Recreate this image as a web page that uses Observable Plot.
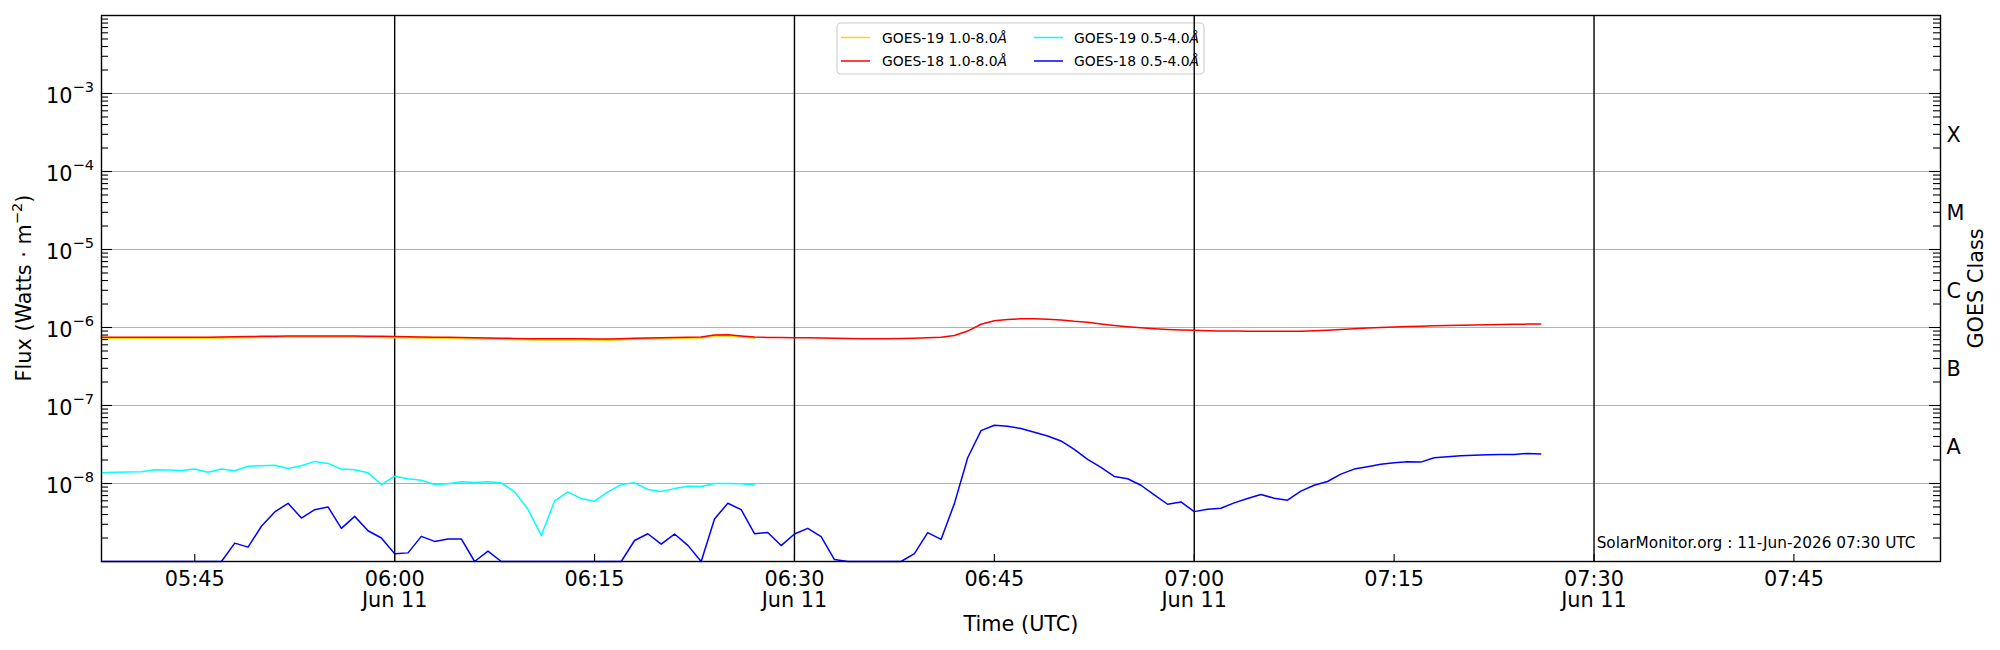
<!DOCTYPE html>
<html>
<head>
<meta charset="utf-8">
<script src="https://cdn.jsdelivr.net/npm/d3@7"></script>
<script src="https://cdn.jsdelivr.net/npm/@observablehq/plot@0.6"></script>
<style>
  html, body { margin: 0; padding: 0; background: #fff; }
  #chart svg { display: block; }
</style>
</head>
<body>
<div id="chart"></div>
<script>
// ---------- data (one sample per minute, starting at startTime) ----------
const dateStr = "2026-06-11";
const startTime = "05:38";
const endTime = "07:56";

const goes19Long = [
  7.32e-7, 7.32e-7, 7.32e-7, 7.32e-7, 7.30e-7, 7.30e-7, 7.30e-7, 7.32e-7, 7.34e-7, 7.37e-7,
  7.42e-7, 7.47e-7, 7.52e-7, 7.57e-7, 7.60e-7, 7.62e-7, 7.62e-7, 7.62e-7, 7.62e-7, 7.62e-7,
  7.57e-7, 7.52e-7, 7.47e-7, 7.42e-7, 7.37e-7, 7.32e-7, 7.32e-7, 7.27e-7, 7.22e-7, 7.17e-7,
  7.12e-7, 7.07e-7, 7.02e-7, 6.97e-7, 6.97e-7, 6.97e-7, 6.97e-7, 6.94e-7, 6.92e-7, 7.02e-7,
  7.12e-7, 7.17e-7, 7.22e-7, 7.27e-7, 7.32e-7, 7.37e-7, 7.82e-7, 7.87e-7, 7.62e-7, 7.37e-7
];

const goes18Long = [
  7.50e-7, 7.50e-7, 7.50e-7, 7.50e-7, 7.48e-7, 7.48e-7, 7.48e-7, 7.50e-7, 7.52e-7, 7.55e-7,
  7.60e-7, 7.65e-7, 7.70e-7, 7.75e-7, 7.78e-7, 7.80e-7, 7.80e-7, 7.80e-7, 7.80e-7, 7.80e-7,
  7.75e-7, 7.70e-7, 7.65e-7, 7.60e-7, 7.55e-7, 7.50e-7, 7.50e-7, 7.45e-7, 7.40e-7, 7.35e-7,
  7.30e-7, 7.25e-7, 7.20e-7, 7.15e-7, 7.15e-7, 7.15e-7, 7.15e-7, 7.12e-7, 7.10e-7, 7.20e-7,
  7.30e-7, 7.35e-7, 7.40e-7, 7.45e-7, 7.50e-7, 7.55e-7, 8.00e-7, 8.05e-7, 7.80e-7, 7.55e-7,
  7.45e-7, 7.42e-7, 7.40e-7, 7.37e-7, 7.33e-7, 7.30e-7, 7.25e-7, 7.20e-7, 7.15e-7, 7.20e-7,
  7.25e-7, 7.30e-7, 7.38e-7, 7.50e-7, 7.90e-7, 9.00e-7, 1.10e-6, 1.22e-6, 1.27e-6, 1.29e-6,
  1.29e-6, 1.28e-6, 1.25e-6, 1.20e-6, 1.17e-6, 1.11e-6, 1.06e-6, 1.02e-6, 9.90e-7, 9.65e-7,
  9.45e-7, 9.30e-7, 9.20e-7, 9.10e-7, 9.05e-7, 9.00e-7, 8.97e-7, 8.97e-7, 8.97e-7, 8.97e-7,
  8.97e-7, 9.10e-7, 9.25e-7, 9.45e-7, 9.65e-7, 9.85e-7, 1.00e-6, 1.015e-6, 1.03e-6, 1.04e-6,
  1.05e-6, 1.06e-6, 1.07e-6, 1.08e-6, 1.085e-6, 1.09e-6, 1.10e-6, 1.105e-6, 1.11e-6
];

const goes19Short = [
  1.37e-8, 1.39e-8, 1.40e-8, 1.41e-8, 1.50e-8, 1.49e-8, 1.47e-8, 1.53e-8, 1.39e-8, 1.53e-8,
  1.46e-8, 1.66e-8, 1.69e-8, 1.71e-8, 1.56e-8, 1.69e-8, 1.92e-8, 1.81e-8, 1.53e-8, 1.50e-8,
  1.37e-8, 9.7e-9, 1.24e-8, 1.15e-8, 1.10e-8, 9.7e-9, 9.9e-9, 1.05e-8, 1.03e-8, 1.05e-8,
  1.02e-8, 7.8e-9, 4.67e-9, 2.16e-9, 5.98e-9, 7.8e-9, 6.41e-9, 5.93e-9, 7.8e-9, 9.7e-9,
  1.02e-8, 8.37e-9, 7.89e-9, 8.6e-9, 9.24e-9, 9.15e-9, 1.0e-8, 1.0e-8, 9.9e-9, 9.6e-9
];

const goes18Short = [
  1e-9, 1e-9, 1e-9, 1e-9, 1e-9, 1e-9, 1e-9, 1e-9, 1e-9, 1e-9,
  1.72e-9, 1.53e-9, 2.83e-9, 4.32e-9, 5.58e-9, 3.61e-9, 4.62e-9, 5.01e-9, 2.66e-9, 3.79e-9,
  2.48e-9, 2.00e-9, 1.26e-9, 1.29e-9, 2.10e-9, 1.81e-9, 1.94e-9, 1.95e-9, 1e-9, 1.36e-9,
  1e-9, 1e-9, 1e-9, 1e-9, 1e-9, 1e-9, 1e-9, 1e-9, 1e-9, 1e-9,
  1.86e-9, 2.27e-9, 1.67e-9, 2.25e-9, 1.61e-9, 1e-9, 3.51e-9, 5.58e-9, 4.62e-9, 2.27e-9,
  2.36e-9, 1.60e-9, 2.25e-9, 2.66e-9, 2.08e-9, 1.06e-9, 1e-9, 1e-9, 1e-9, 1e-9,
  1e-9, 1.26e-9, 2.34e-9, 1.92e-9, 5.52e-9, 2.14e-8, 4.76e-8, 5.58e-8, 5.42e-8, 5.06e-8,
  4.54e-8, 4.07e-8, 3.51e-8, 2.74e-8, 2.04e-8, 1.61e-8, 1.23e-8, 1.15e-8, 9.5e-9, 7.15e-9,
  5.42e-9, 5.81e-9, 4.36e-9, 4.67e-9, 4.81e-9, 5.64e-9, 6.41e-9, 7.21e-9, 6.47e-9, 6.10e-9,
  7.97e-9, 9.5e-9, 1.06e-8, 1.32e-8, 1.53e-8, 1.64e-8, 1.77e-8, 1.85e-8, 1.90e-8, 1.88e-8,
  2.14e-8, 2.20e-8, 2.27e-8, 2.30e-8, 2.33e-8, 2.36e-8, 2.36e-8, 2.43e-8, 2.39e-8
];

const seriesNames = ["GOES-19 1.0-8.0", "GOES-18 1.0-8.0", "GOES-19 0.5-4.0", "GOES-18 0.5-4.0"];
const seriesColors = ["#FFD700", "#FF0000", "#00FFFF", "#0000FF"];

const yTickValues = [1e-8, 1e-7, 1e-6, 1e-5, 1e-4, 1e-3];
const yTickBase = "10";
const yTickExponents = ["\u22128", "\u22127", "\u22126", "\u22125", "\u22124", "\u22123"];
const classNames = ["A", "B", "C", "M", "X"];
const classValues = [3.1623e-8, 3.1623e-7, 3.1623e-6, 3.1623e-5, 3.1623e-4];
const xTickTimes = ["05:45", "06:00", "06:15", "06:30", "06:45", "07:00", "07:15", "07:30", "07:45"];
const dayLineTimes = ["06:00", "06:30", "07:00", "07:30"];
const dayLabel = "Jun 11";
const yLabelParts = ["Flux (Watts \u00B7 m", "\u22122", ")"];
const xLabel = "Time (UTC)";
const rightLabel = "GOES Class";
const caption = "SolarMonitor.org : 11-Jun-2026 07:30 UTC";

// ---------- helpers ----------
const toDate = hm => new Date(`${dateStr}T${hm}:00Z`);
const t0 = toDate(startTime).getTime();
const rows = values => values.map((v, i) => ({t: new Date(t0 + i * 60000), v}));
const minorTicks = [];
for (let k = -9; k <= -3; k++) for (let m = 2; m <= 9; m++) minorTicks.push(m * Math.pow(10, k));

// ---------- layout ----------
const W = 2000, H = 650;
const mL = 101, mR = 60, mT = 15, mB = 89;
const plotW = W - mL - mR, plotH = H - mT - mB;
const FS = 20.8, FS_SUP = 14.6, FS_LEG = 13.9, FS_CAP = 15.3;
const FONT = "'DejaVu Sans', sans-serif";

const lineOpts = (i, w) => ({x: "t", y: "v", stroke: seriesColors[i], strokeWidth: w});

const chart = Plot.plot({
  width: W, height: H,
  marginLeft: mL, marginRight: mR, marginTop: mT, marginBottom: mB,
  style: {fontFamily: FONT, background: "white", color: "black", overflow: "visible"},
  x: {type: "utc", domain: [toDate(startTime), toDate(endTime)], axis: null},
  y: {type: "log", domain: [1e-9, 1e-2], axis: null},
  marks: [
    Plot.ruleY(yTickValues, {y: d => d, stroke: "#b0b0b0", strokeWidth: 1.1}),
    Plot.ruleX(dayLineTimes, {x: d => toDate(d), stroke: "black", strokeWidth: 1.4}),
    Plot.lineY(rows(goes19Long), lineOpts(0, 2)),
    Plot.lineY(rows(goes18Long), lineOpts(1, 1.5)),
    Plot.lineY(rows(goes19Short), lineOpts(2, 1.5)),
    Plot.lineY(rows(goes18Short), lineOpts(3, 1.5)),
    // inward ticks
    Plot.tickY(minorTicks, {y: d => d, insetRight: plotW - 7, stroke: "black", strokeWidth: 1.1}),
    Plot.tickY(yTickValues, {y: d => d, insetRight: plotW - 11, stroke: "black", strokeWidth: 1.1}),
    Plot.tickY(minorTicks, {y: d => d, insetLeft: plotW - 7, stroke: "black", strokeWidth: 1.1}),
    Plot.tickY(yTickValues, {y: d => d, insetLeft: plotW - 11, stroke: "black", strokeWidth: 1.1}),
    Plot.tickX(xTickTimes, {x: d => toDate(d), insetTop: plotH - 7, stroke: "black", strokeWidth: 1.1}),
    Plot.frame({stroke: "black", strokeWidth: 1.4}),
    // y tick labels: base + superscript exponent
    Plot.text(yTickValues, {y: d => d, text: () => yTickBase, frameAnchor: "left", textAnchor: "end", lineAnchor: "middle", dx: -29, dy: 3, fontSize: FS}),
    Plot.text(yTickValues, {y: d => d, text: (d, i) => yTickExponents[i], frameAnchor: "left", textAnchor: "start", lineAnchor: "middle", dx: -29, dy: -6, fontSize: FS_SUP}),
    // right class labels
    Plot.text(classValues, {y: d => d, text: (d, i) => classNames[i], frameAnchor: "right", textAnchor: "start", lineAnchor: "middle", dx: 6, dy: 3, fontSize: FS}),
    // x tick labels
    Plot.text(xTickTimes, {x: d => toDate(d), text: d => dayLineTimes.includes(d) ? `${d}\n${dayLabel}` : d, frameAnchor: "bottom", lineAnchor: "top", dy: 9, lineHeight: 1.04, fontSize: FS}),
    // axis titles
    Plot.text([rightLabel], {text: d => d, frameAnchor: "right", rotate: -90, textAnchor: "middle", lineAnchor: "middle", dx: 36, fontSize: FS}),
    Plot.text([xLabel], {text: d => d, frameAnchor: "bottom", textAnchor: "middle", lineAnchor: "middle", dy: 63, fontSize: FS}),
    Plot.text([caption], {text: d => d, frameAnchor: "bottom-right", textAnchor: "end", lineAnchor: "middle", dx: -25, dy: -18, fontSize: FS_CAP})
  ]
});

document.getElementById("chart").appendChild(chart);
const svg = d3.select(chart);

// ---------- y-axis title with superscript ----------
const yt = svg.append("text")
  .attr("transform", `translate(${mL - 77},${mT + plotH / 2}) rotate(-90)`)
  .attr("text-anchor", "middle").attr("font-family", FONT).attr("font-size", FS)
  .attr("dy", "0.35em").attr("fill", "black");
yt.append("tspan").text(yLabelParts[0]);
yt.append("tspan").attr("font-size", FS_SUP).attr("dy", -9).text(yLabelParts[1]);
yt.append("tspan").attr("dy", 9).text(yLabelParts[2]);

// ---------- legend (drawn beneath the marks) ----------
const lg = svg.insert("g", ":first-child")
  .attr("font-family", FONT).attr("font-size", FS_LEG).attr("text-anchor", "start");
lg.append("rect").attr("x", 837).attr("y", 23).attr("width", 367).attr("height", 51).attr("rx", 4)
  .attr("fill", "white").attr("fill-opacity", 0.8).attr("stroke", "#cccccc").attr("stroke-width", 1.1);
const colX = [841, 1034], textX = [882, 1074], rowY = [37.5, 61];
const legendOrder = [[0, 0, 0], [1, 0, 1], [2, 1, 0], [3, 1, 1]];
legendOrder.forEach(([s, c, r]) => {
  lg.append("line").attr("x1", colX[c]).attr("x2", colX[c] + 29).attr("y1", rowY[r]).attr("y2", rowY[r])
    .attr("stroke", seriesColors[s]).attr("stroke-width", 1.5);
  const t = lg.append("text").attr("x", textX[c]).attr("y", rowY[r]).attr("dy", "0.36em").attr("fill", "black");
  t.append("tspan").text(seriesNames[s]);
  t.append("tspan").attr("font-style", "italic").text("\u00C5");
});
</script>
</body>
</html>
